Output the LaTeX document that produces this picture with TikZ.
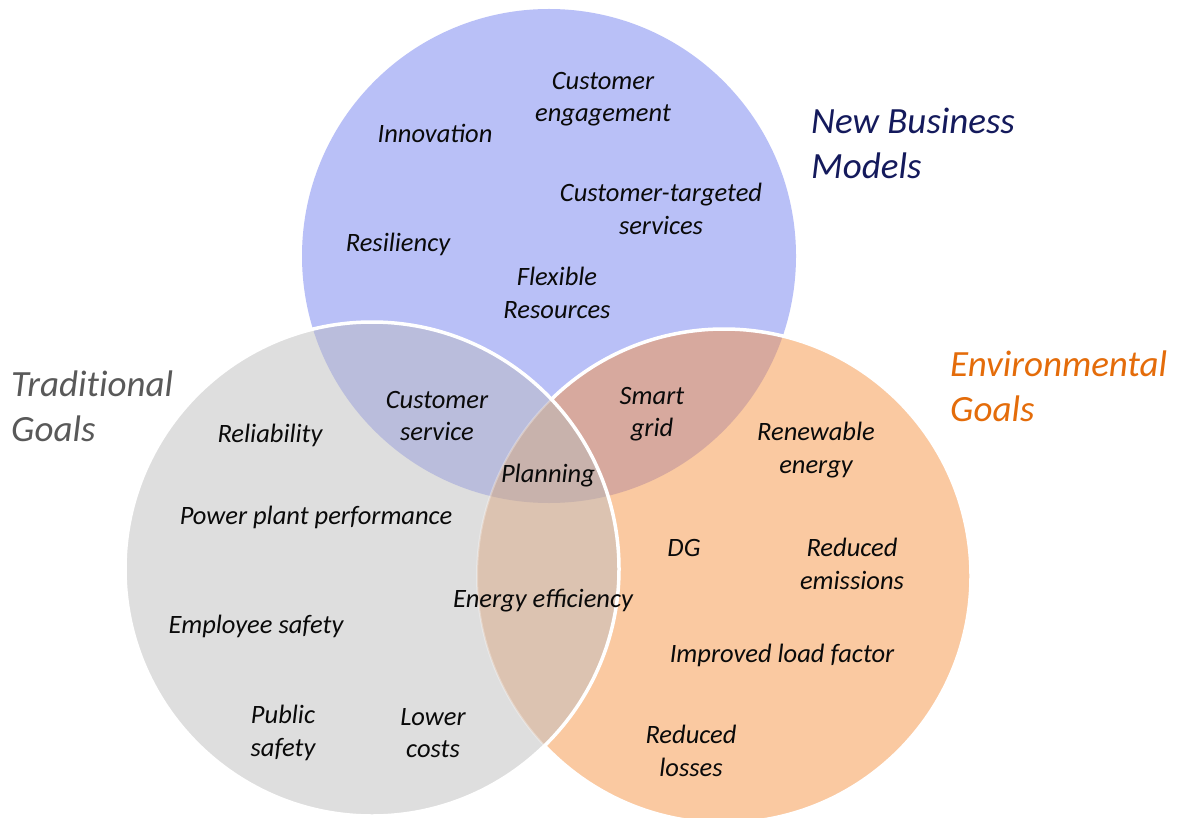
\documentclass[tikz,border=0pt]{standalone}
\usepackage{fontspec}
\setmainfont{Carlito}
\newfontfamily\titlefont{Carlito}[RawFeature=-liga]
\definecolor{cB}{HTML}{B9C0F7}
\definecolor{cO}{HTML}{FAC9A1}
\definecolor{cG}{HTML}{DEDEDE}
\definecolor{cBG}{HTML}{BABDDC}
\definecolor{cBO}{HTML}{D7A99E}
\definecolor{cOG}{HTML}{DCC3B1}
\definecolor{cBOG}{HTML}{C8B2AC}
\definecolor{navy}{HTML}{141A5C}
\definecolor{tgray}{HTML}{595959}
\definecolor{torange}{HTML}{E46C0A}
\definecolor{itemtxt}{HTML}{0A0A0A}
\tikzset{
  item/.style={text=itemtxt, align=center, inner sep=0pt,
    font=\fontsize{26.5}{32.5}\selectfont\itshape},
  title/.style={align=left, anchor=west, inner sep=0pt,
    font=\titlefont\fontsize{37}{45}\selectfont\itshape},
  outline/.style={draw=white, line width=3.5pt}
}
\begin{document}
\begin{tikzpicture}[x=1pt,y=-1pt]
\useasboundingbox (0,0) rectangle (1177,818);
\fill[white] (0,0) rectangle (1177,818);
\coordinate (cb) at (549,256);
\coordinate (co) at (724,576);
\coordinate (cg) at (372,569);
\def\R{247}
% blue
\fill[cB] (cb) circle (\R);
% orange
\fill[cO] (co) circle (\R);
\begin{scope}
  \clip (cb) circle (\R);
  \fill[cBO] (co) circle (\R);
\end{scope}
\draw[outline] (co) circle (\R);
% gray
\fill[cG] (cg) circle (\R);
\begin{scope}
  \clip (cg) circle (\R);
  \fill[cBG] (cb) circle (\R);
  \fill[cOG] (co) circle (\R);
  \clip (cb) circle (\R);
  \fill[cBOG] (co) circle (\R);
\end{scope}
\begin{scope}
  \clip (cg) circle (\R);
  \draw[draw=white, line width=2pt, opacity=0.3] (co) circle (\R);
\end{scope}
\draw[outline] (cg) circle (\R);

% titles
\node[title, text=navy] (tnbm) at (811,143) {New Business\\Models};
\node[title, text=tgray] (ttg) at (11,406) {Traditional\\Goals};
\node[title, text=torange] (teg) at (950,386) {Environmental\\Goals};

% items
\node[item] (ceng) at (603,99) {Customer\\engagement};
\node[item] (inno) at (435,133) {Innovation};
\node[item] (ctar) at (661,209) {Customer-targeted\\services};
\node[item] (resi) at (398,244) {Resiliency};
\node[item] (flex) at (557,293) {Flexible\\Resources};
\node[item] (cser) at (437,416) {Customer\\service};
\node[item] (reli) at (270,435) {Reliability};
\node[item] (smart) at (652,414) {Smart\\grid};
\node[item] (renew) at (816,450) {Renewable\\energy};
\node[item] (plan) at (548,476) {Planning};
\node[item] (ppp) at (316,517) {Power plant performance};
\node[item] (dg) at (684,548) {DG};
\node[item] (remi) at (852,564) {Reduced\\emissions};
\node[item] (eeff) at (543,601) {Energy efficiency};
\node[item] (esaf) at (256,626) {Employee safety};
\node[item] (ilf) at (782,655) {Improved load factor};
\node[item] (psaf) at (283,733) {Public\\safety};
\node[item] (lcost) at (433,733) {Lower\\costs};
\node[item] (rloss) at (691,751) {Reduced\\losses};
\end{tikzpicture}
\end{document}
